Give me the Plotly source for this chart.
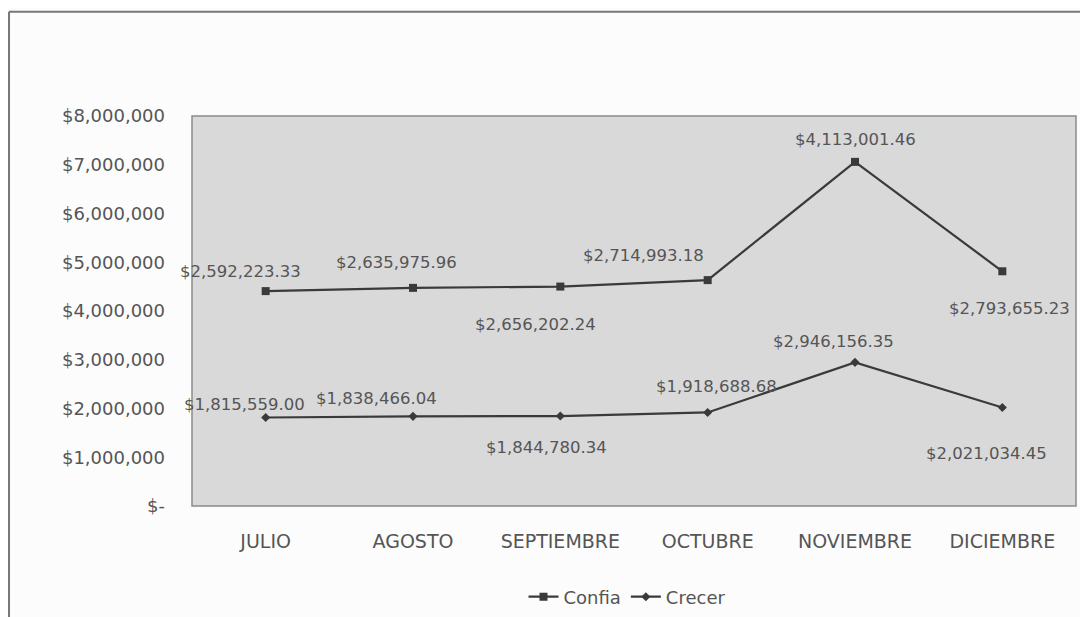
import plotly.graph_objects as go

months = ["JULIO", "AGOSTO", "SEPTIEMBRE", "OCTUBRE", "NOVIEMBRE", "DICIEMBRE"]
crecer = [1815559.00, 1838466.04, 1844780.34, 1918688.68, 2946156.35, 2021034.45]
confia = [2592223.33, 2635975.96, 2656202.24, 2714993.18, 4113001.46, 2793655.23]
y_tickvals = [0, 1000000, 2000000, 3000000, 4000000, 5000000, 6000000, 7000000, 8000000]
y_ticktext = ["$-", "$1,000,000", "$2,000,000", "$3,000,000", "$4,000,000",
              "$5,000,000", "$6,000,000", "$7,000,000", "$8,000,000"]

# label offsets in pixels (style only)
confia_dx = [-25, -17, -25, -64, 0, 7]
confia_dy = [20, 25, -38, 25, 22, -37]
crecer_dx = [-21, -37, -14, 9, -22, -16]
crecer_dy = [13, 18, -31, 26, 21, -46]

def money(v):
    return "${:,.2f}".format(v)

FONT = "DejaVu Sans"
TXT = "#555555"
LINE = "#3a3a3a"

fig = go.Figure()
fig.add_trace(go.Scatter(
    x=months, y=crecer, name="Crecer", stackgroup="s", fill="none",
    mode="lines+markers",
    line=dict(color=LINE, width=2.2),
    marker=dict(symbol="diamond", size=7, color=LINE),
    legendrank=2,
))
fig.add_trace(go.Scatter(
    x=months, y=confia, name="Confia", stackgroup="s", fill="none",
    mode="lines+markers",
    line=dict(color=LINE, width=2.2),
    marker=dict(symbol="square", size=8, color=LINE),
    legendrank=1,
))

annotations = []
for i, m in enumerate(months):
    annotations.append(dict(x=m, y=crecer[i], xref="x", yref="y", text=money(crecer[i]),
                            showarrow=False, xanchor="center", yanchor="middle",
                            xshift=crecer_dx[i], yshift=crecer_dy[i],
                            font=dict(family=FONT, size=16.5, color=TXT)))
    annotations.append(dict(x=m, y=crecer[i] + confia[i], xref="x", yref="y", text=money(confia[i]),
                            showarrow=False, xanchor="center", yanchor="middle",
                            xshift=confia_dx[i], yshift=confia_dy[i],
                            font=dict(family=FONT, size=16.5, color=TXT)))

fig.update_layout(
    width=1080, height=609,
    margin=dict(l=184, r=12, t=108, b=111),
    paper_bgcolor="#fcfcfc",
    plot_bgcolor="#d9d9da",
    font=dict(family=FONT, size=16, color=TXT),
    showlegend=True,
    legend=dict(orientation="h", xref="container", yref="container",
                x=619 / 1080, xanchor="center", y=20 / 609, yanchor="middle",
                itemwidth=30,
                font=dict(family=FONT, size=18, color=TXT), bgcolor="rgba(0,0,0,0)"),
    xaxis=dict(range=[-0.5, 5.5], showgrid=False, zeroline=False, showline=False, ticks="",
               tickfont=dict(family=FONT, size=19, color=TXT), ticklabelstandoff=22),
    yaxis=dict(range=[0, 8000000], tickvals=y_tickvals, ticktext=y_ticktext,
               showgrid=False, zeroline=False, showline=False, ticks="",
               tickfont=dict(family=FONT, size=18, color=TXT), ticklabelstandoff=26),
    annotations=annotations,
    shapes=[
        dict(type="rect", xref="paper", yref="paper", x0=0, x1=1, y0=0, y1=1,
             line=dict(color="#8a8a8a", width=1.5), fillcolor="rgba(0,0,0,0)", layer="above"),
        dict(type="line", xref="paper", yref="paper", x0=-0.207, x1=-0.207, y0=-0.3, y1=1.267,
             line=dict(color="#777777", width=2)),
        dict(type="line", xref="paper", yref="paper", x0=-0.207, x1=1.02, y0=1.267, y1=1.267,
             line=dict(color="#777777", width=2)),
    ],
)

fig.write_html("out.html")
